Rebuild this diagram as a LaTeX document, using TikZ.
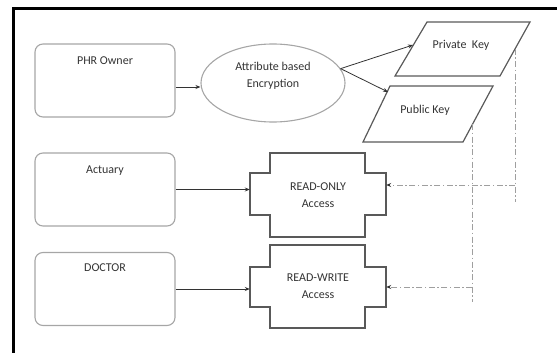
\documentclass[tikz,border=0pt]{standalone}
\usepackage{fontspec}
\setmainfont{Carlito}
\usetikzlibrary{arrows.meta,shapes.geometric,calc}
\begin{document}
\begin{tikzpicture}[x=1pt,y=-1pt,
  font=\fontsize{12}{17}\selectfont,
  actor/.style={draw=gray!70, line width=1.1pt, rounded corners=8pt, minimum width=140pt, minimum height=73pt, inner sep=0pt},
  lbl/.style={text=black!80},
  arr/.style={-{Stealth[length=5pt,width=4pt]}, line width=0.8pt, draw=black!80},
  dd/.style={draw=gray!75, line width=1pt, dash pattern=on 6pt off 2.5pt on 1.5pt off 2.5pt},
  ddarr/.style={dd, -{Stealth[length=5pt,width=4pt,fill=black!80,color=black!80]}},
  shapeline/.style={draw=black!65, line width=1.2pt},
  holder/.style={draw=none, inner sep=0pt, align=center, lbl}
]
\useasboundingbox (0,0) rectangle (557,353);
% frame
\draw[line width=3pt] (13.5,353) -- (13.5,9) -- (557,9);

% actors
\node[actor, label={[lbl,anchor=north,yshift=-10pt]north:PHR Owner}] (phr) at (105,80.5) {};
\node[actor, label={[lbl,anchor=north,yshift=-10pt]north:Actuary}] (act) at (105,189.5) {};
\node[actor, label={[lbl,anchor=north,yshift=-8pt]north:DOCTOR}] (doc) at (105,289) {};

% encryption
\node[draw=gray!70, line width=1.1pt, ellipse, minimum width=144pt, minimum height=78pt, inner sep=0pt,
  label={[lbl,align=center,yshift=7pt]center:Attribute based\\Encryption}] (abe) at (273,83) {};

% keys
\draw[shapeline] (427,22) -- (530,22) -- (500,76) -- (395,76) -- cycle;
\node[lbl] (pk) at (461,45) {Private\ \ Key};
\draw[shapeline] (390,86) -- (493,86) -- (463,142) -- (363,142) -- cycle;
\node[lbl] (pub) at (425,110) {Public Key};

% access shapes
\draw[shapeline] (270,153) -- (365,153) -- (365,173) -- (386,173) -- (386,215) -- (365,215) -- (365,237) -- (270,237) -- (270,215) -- (250,215) -- (250,173) -- (270,173) -- cycle;
\node[holder, minimum width=136pt, minimum height=84pt] (ro) at (318,195) {READ-ONLY\\Access};
\draw[shapeline] (270,245) -- (365,245) -- (365,267) -- (386,267) -- (386,307) -- (365,307) -- (365,328) -- (270,328) -- (270,307) -- (250,307) -- (250,267) -- (270,267) -- cycle;
\node[holder, minimum width=136pt, minimum height=83pt] (rw) at (318,286.5) {READ-WRITE\\Access};

% connectors
\draw[arr] ([yshift=-6.5pt]phr.east) -- ([yshift=-6.5pt]phr.east -| abe.west);
\coordinate (pkin) at (413,45);
\coordinate (pubin) at (388,92);
\draw[arr] (abe.12) -- (pkin);
\draw[arr] (abe.12) -- (pubin);
\draw[arr] (act.east) -- (act.east -| ro.west);
\draw[arr] (doc.east) -- (doc.east -| rw.west);

% key distribution
\coordinate (pkv) at (515,49);
\coordinate (pkb) at (515,202);
\coordinate (pkh) at (515,185);
\draw[dd] (pkv) -- (pkb);
\draw[ddarr] (pkh) -- (pkh -| ro.east);
\coordinate (pubv) at (472,124);
\coordinate (pubb) at (472,302);
\coordinate (pubh) at (472,287);
\draw[dd] (pubv) -- (pubb);
\draw[ddarr] (pubh) -- (pubh -| rw.east);
\end{tikzpicture}
\end{document}
